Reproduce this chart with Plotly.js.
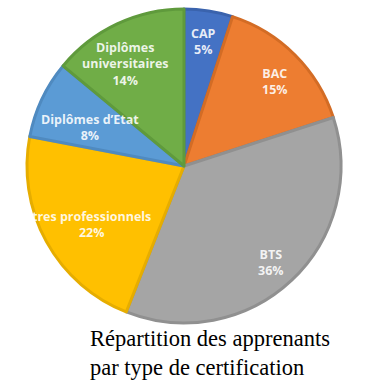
<!DOCTYPE html>
<html><head><meta charset="utf-8">
<script src="https://cdn.plot.ly/plotly-3.0.1.min.js"></script>
<style>html,body{margin:0;padding:0;background:#fff;}#chart{width:370px;height:382px;}</style>
</head><body><div id="chart"></div>
<script>
const categories = ["CAP", "BAC", "BTS", "tres professionnels", "Diplômes d’Etat", "Diplômes<br>universitaires"];
const values = [5, 15, 36, 22, 8, 14];
const colors = ["#4472C4", "#ED7D31", "#A5A5A5", "#FFC000", "#5B9BD5", "#70AD47"];
const borderColors = ["#3a63ad", "#d36c25", "#909090", "#e6ad00", "#4f8ac0", "#5f9a3c"];
const labelRadius = [0.805, 0.79, 0.83, 0.7, 0.645, 0.75];
const labelAngleShift = [0, 2, 1.3, -3.4, -3, -4.7];

const W = 370, H = 382, cx = 184, cy = 166, R = 157;
const total = values.reduce((a, b) => a + b, 0);
let cum = 0;
const annotations = [];
values.forEach((v, i) => {
  const mid = (cum + v / 2) / total * 2 * Math.PI + labelAngleShift[i] * Math.PI / 180;
  cum += v;
  const px = cx + R * labelRadius[i] * Math.sin(mid);
  const py = cy - R * labelRadius[i] * Math.cos(mid);
  annotations.push({
    x: px / W, y: 1 - py / H, xref: "paper", yref: "paper",
    xanchor: "center", yanchor: "middle",
    text: "<b>" + categories[i] + "<br>" + v + "%</b>",
    showarrow: false, align: "center",
    font: {family: "Open Sans, sans-serif", size: 12.5, color: "rgba(255,255,255,0.88)"}
  });
});
annotations.push({
  x: 88 / W, y: 1 - 324 / H, xref: "paper", yref: "paper", xanchor: "left", yanchor: "top",
  text: "Répartition des apprenants<br>par type de certification", showarrow: false, align: "left",
  font: {family: "Liberation Serif, serif", size: 22.5, color: "#000"}
});

const data = [{
  type: "pie", values: values, labels: categories,
  sort: false, direction: "clockwise", rotation: 0,
  marker: {colors: colors, line: {color: borderColors, width: 3}},
  textinfo: "none", hoverinfo: "none",
  domain: {x: [(cx - R) / W, (cx + R) / W], y: [1 - (cy + R) / H, 1 - (cy - R) / H]}
}];
const layout = {
  width: W, height: H, margin: {l: 0, r: 0, t: 0, b: 0},
  paper_bgcolor: "#fff", showlegend: false, annotations: annotations
};
Plotly.newPlot("chart", data, layout, {staticPlot: true, displayModeBar: false});
</script></body></html>
